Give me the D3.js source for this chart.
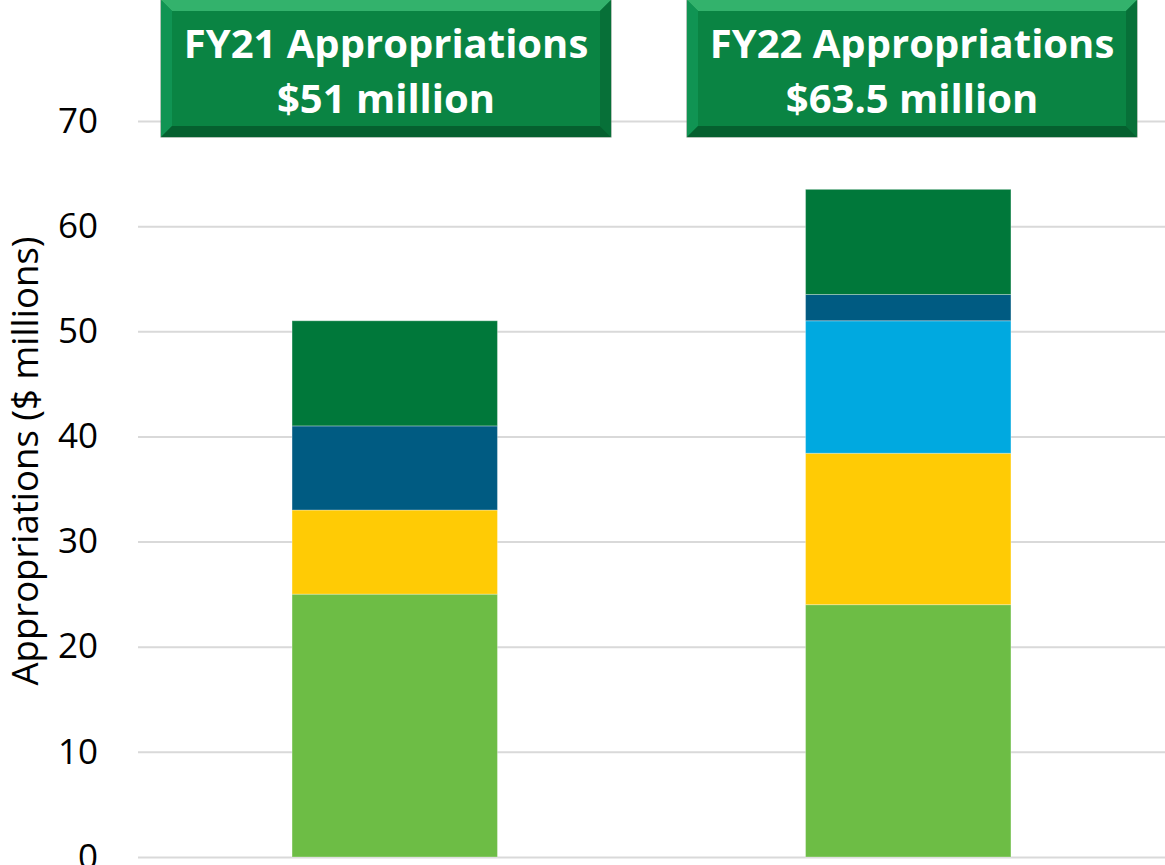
<!DOCTYPE html>
<html lang="en">
<head>
<meta charset="UTF-8">
<title>Appropriations</title>
<script src="https://d3js.org/d3.v7.min.js"></script>
<style>
    body { margin: 0; background: #fff; font-family: "Open Sans", Arial, sans-serif; }
</style>
</head>
<body>
<svg id="chart" width="1165" height="865"></svg>
<script>
    // data
    const years = ["FY21", "FY22"];
    const headerLine1 = ["FY21 Appropriations", "FY22 Appropriations"];
    const headerLine2 = ["$51 million", "$63.5 million"];
    const seriesNames = ["s1", "s2", "s3", "s4", "s5"];
    const seriesColors = ["#6dbd45", "#ffcb05", "#00a9e0", "#005b82", "#00783a"];
    const s1 = [25, 24];
    const s2 = [8, 14.4];
    const s3 = [0, 12.6];
    const s4 = [8, 2.5];
    const s5 = [10, 10];
    const yTicks = [0, 10, 20, 30, 40, 50, 60, 70];

    const svg = d3.select("#chart");
    const margin = { top: 121, right: 0, bottom: 8, left: 138 };
    const width = 1165 - margin.left - margin.right;
    const height = 865 - margin.top - margin.bottom;

    const rows = years.map((y, i) => ({ year: y, s1: s1[i], s2: s2[i], s3: s3[i], s4: s4[i], s5: s5[i] }));
    const stacked = d3.stack().keys(seriesNames)(rows);

    const x = d3.scaleBand().domain(years).range([0, width]);
    const y = d3.scaleLinear().domain([0, 70]).range([height, 0]);
    const barW = x.bandwidth() * 0.4;

    const g = svg.append("g").attr("transform", `translate(${margin.left},${margin.top})`);

    // gridlines
    g.append("g")
        .call(d3.axisLeft(y).tickValues(yTicks).tickSize(-width).tickFormat(""))
        .call(s => s.select(".domain").remove())
        .call(s => s.selectAll("line").attr("stroke", "#d9d9d9").attr("stroke-width", 2));

    // tick labels
    g.append("g")
        .call(d3.axisLeft(y).tickValues(yTicks).tickSize(0).tickPadding(40))
        .call(s => s.select(".domain").remove())
        .call(s => s.selectAll("text")
            .attr("font-size", 35)
            .attr("fill", "#000")
            .attr("font-family", "Open Sans, Arial, sans-serif"));

    // bars
    g.selectAll(".layer")
        .data(stacked)
        .join("g")
        .attr("class", "layer")
        .attr("fill", (d, i) => seriesColors[i])
        .selectAll("rect")
        .data(d => d.filter(p => p[1] > p[0]))
        .join("rect")
        .attr("x", d => x(d.data.year) + (x.bandwidth() - barW) / 2)
        .attr("y", d => y(d[1]))
        .attr("width", barW)
        .attr("height", d => y(d[0]) - y(d[1]))
        .attr("stroke", "rgba(255,255,255,0.3)")
        .attr("stroke-width", 1);

    // y axis title
    svg.append("text")
        .attr("transform", "translate(38,461) rotate(-90)")
        .attr("text-anchor", "middle")
        .attr("font-size", 36.5)
        .attr("fill", "#000")
        .text("Appropriations ($ millions)");

    // header boxes
    const boxX = [161, 687];
    const boxW = 450, boxH = 137, bev = 11;
    years.forEach((yr, i) => {
        const b = svg.append("g").attr("transform", `translate(${boxX[i]},0)`);
        b.append("rect").attr("width", boxW).attr("height", boxH).attr("fill", "#0a8443")
            .attr("stroke", "#6b8a75").attr("stroke-width", 1);
        b.append("polygon").attr("points", `0,0 ${boxW},0 ${boxW - bev},${bev} ${bev},${bev}`).attr("fill", "#33b26c");
        b.append("polygon").attr("points", `0,0 ${bev},${bev} ${bev},${boxH - bev} 0,${boxH}`).attr("fill", "#109453");
        b.append("polygon").attr("points", `${boxW},0 ${boxW},${boxH} ${boxW - bev},${boxH - bev} ${boxW - bev},${bev}`).attr("fill", "#077038");
        b.append("polygon").attr("points", `0,${boxH} ${boxW},${boxH} ${boxW - bev},${boxH - bev} ${bev},${boxH - bev}`).attr("fill", "#05602f");
        b.append("text").attr("x", boxW / 2).attr("y", 58).attr("text-anchor", "middle")
            .attr("font-size", 40).attr("font-weight", "bold").attr("fill", "#fff")
            .text(headerLine1[i]);
        b.append("text").attr("x", boxW / 2).attr("y", 113).attr("text-anchor", "middle")
            .attr("font-size", 40).attr("font-weight", "bold").attr("fill", "#fff")
            .text(headerLine2[i]);
    });
</script>
</body>
</html>
